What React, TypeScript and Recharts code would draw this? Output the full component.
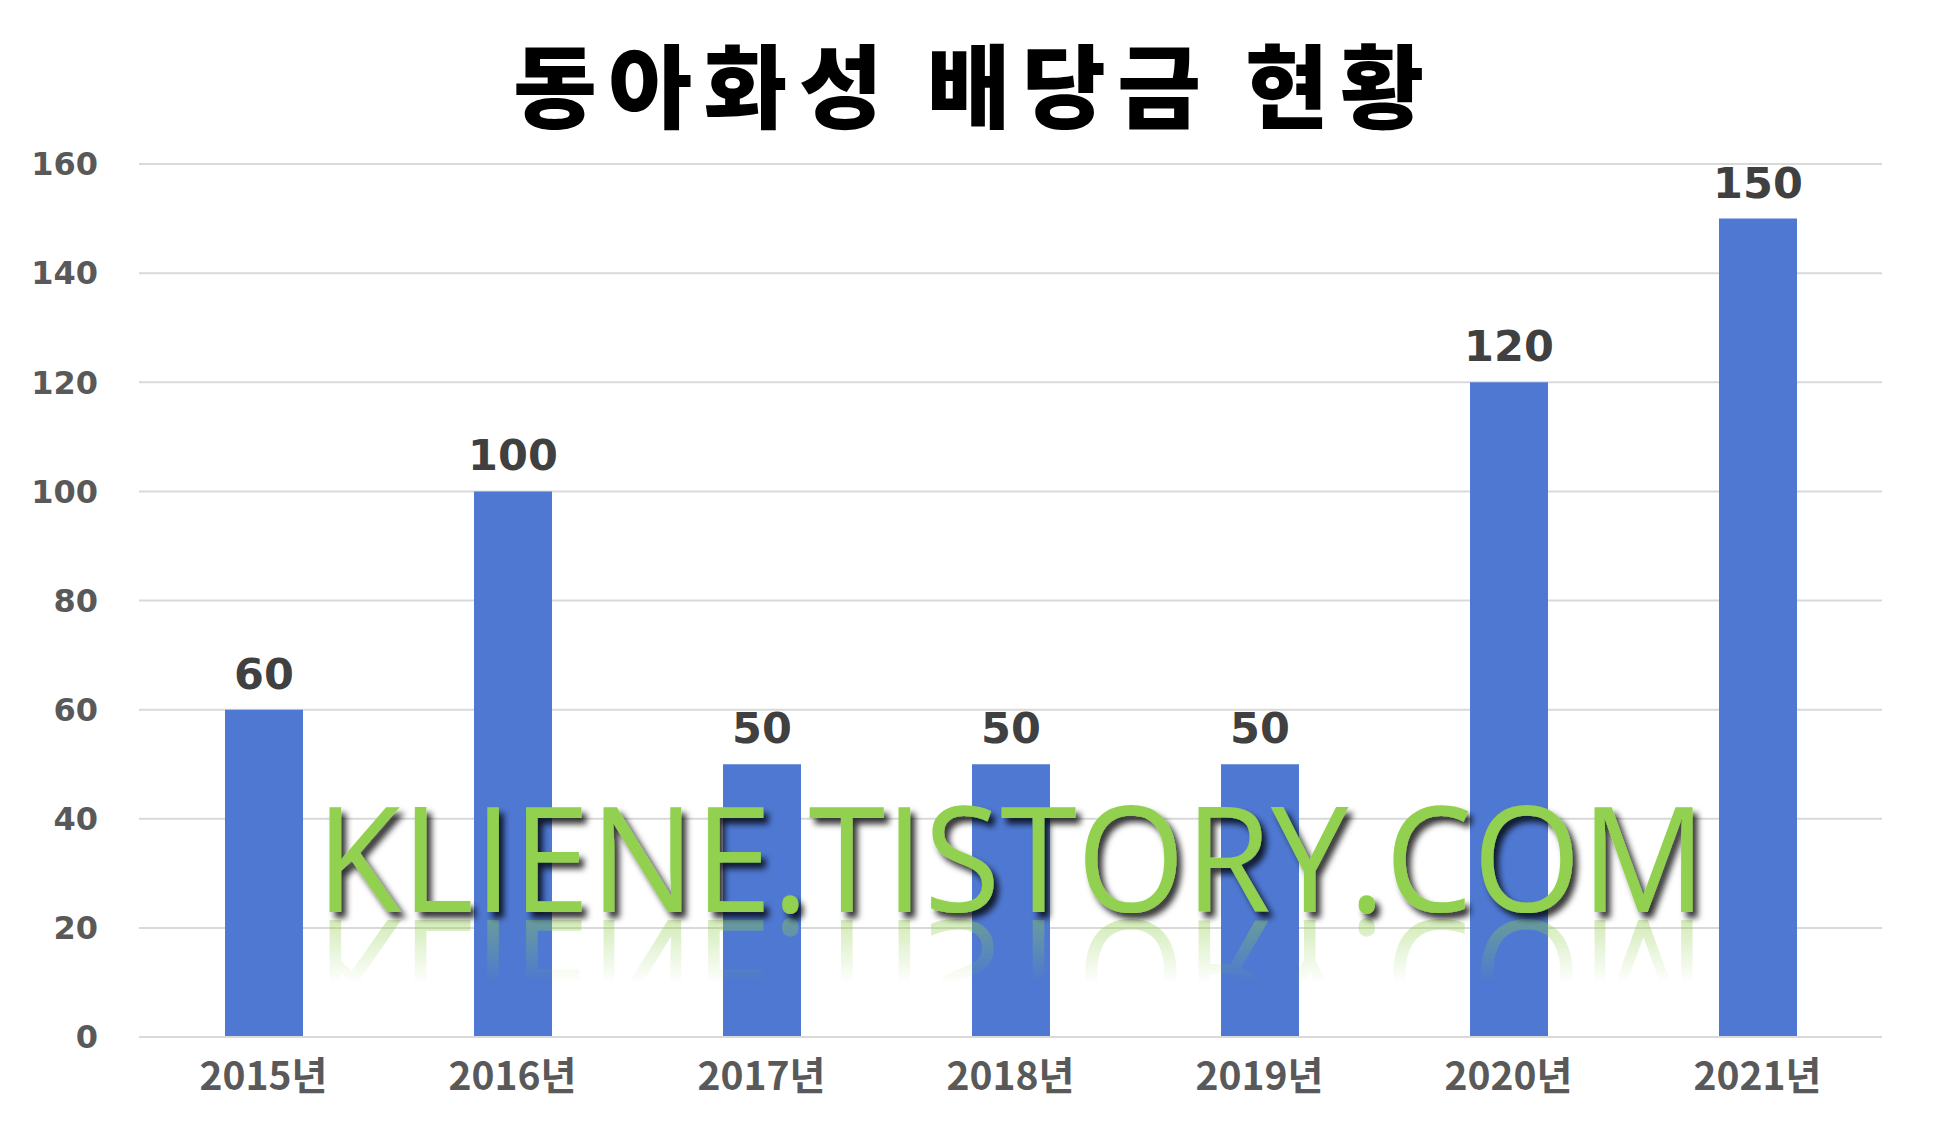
import { BarChart, Bar, XAxis, YAxis, CartesianGrid, LabelList } from 'recharts';

const years = ['2015년', '2016년', '2017년', '2018년', '2019년', '2020년', '2021년'];
const dividends = [60, 100, 50, 50, 50, 120, 150];
const yTicks = [0, 20, 40, 60, 80, 100, 120, 140, 160];

const title = '동아화성 배당금 현황';
const watermark = 'KLIENE.TISTORY.COM';

const data = years.map((year, i) => ({ year, value: dividends[i] }));

const Watermark = () => (
    <svg
        width={1933}
        height={1124}
        style={{ position: 'absolute', left: 0, top: 0, pointerEvents: 'none' }}
    >
        <defs>
            <filter id="wmShadow" x="-10%" y="-30%" width="120%" height="160%">
                <feDropShadow dx="5" dy="6" stdDeviation="3" floodColor="#000" floodOpacity="0.8" />
            </filter>
            <linearGradient id="reflFade" x1="0" y1="0" x2="0" y2="1">
                <stop offset="0" stopColor="#fff" stopOpacity="0.6" />
                <stop offset="1" stopColor="#fff" stopOpacity="0" />
            </linearGradient>
            <mask id="reflMask" maskUnits="userSpaceOnUse" x="0" y="0" width="1933" height="1124">
                <rect x="0" y="918" width="1933" height="65" fill="url(#reflFade)" />
            </mask>
        </defs>
        <g mask="url(#reflMask)">
            <text
                x={316}
                y={912}
                transform="translate(0 1832) scale(1 -1)"
                textLength={1390}
                lengthAdjust="spacingAndGlyphs"
                fontFamily="'Open Sans', sans-serif"
                fontSize={147}
                fill="#92D050"
                opacity={0.7}
            >
                {watermark}
            </text>
        </g>
        <text
            x={316}
            y={912}
            textLength={1390}
            lengthAdjust="spacingAndGlyphs"
            fontFamily="'Open Sans', sans-serif"
            fontSize={147}
            fill="#92D050"
            filter="url(#wmShadow)"
        >
            {watermark}
        </text>
    </svg>
);

export default function App() {
    return (
        <div style={{ position: 'absolute', left: 0, top: 0, width: 1933, height: 1124, background: '#fff' }}>
            <svg width={1933} height={150} style={{ position: 'absolute', left: 0, top: 0 }}>
                <text
                    x={513}
                    y={121}
                    textLength={911}
                    lengthAdjust="spacing"
                    fontFamily="'Noto Sans CJK KR', sans-serif"
                    fontWeight={900}
                    fontSize={91}
                    fill="#000"
                >
                    {title}
                </text>
            </svg>
            <BarChart
                width={1933}
                height={1124}
                data={data}
                margin={{ top: 164, right: 51, left: 0, bottom: 0 }}
                style={{ position: 'absolute', left: 0, top: 0 }}
            >
                <CartesianGrid vertical={false} stroke="#d9d9d9" strokeWidth={2} />
                <XAxis
                    dataKey="year"
                    height={87}
                    tickLine={false}
                    tickSize={0}
                    tickMargin={25}
                    axisLine={{ stroke: '#d9d9d9', strokeWidth: 2 }}
                    tick={{ fill: '#595959', fontSize: 39, fontWeight: 700, fontFamily: "'Noto Sans CJK KR', sans-serif" }}
                    interval={0}
                />
                <YAxis
                    width={139}
                    domain={[0, 160]}
                    ticks={yTicks}
                    axisLine={false}
                    tickLine={false}
                    tickSize={0}
                    tickMargin={41}
                    tick={{ fill: '#595959', fontSize: 32, fontWeight: 700, fontFamily: "'DejaVu Sans', sans-serif" }}
                />
                <Bar dataKey="value" fill="#4E78D2" barSize={78} isAnimationActive={false}>
                    <LabelList
                        dataKey="value"
                        position="top"
                        offset={21}
                        fill="#404040"
                        fontSize={43}
                        fontWeight={700}
                        fontFamily="'DejaVu Sans', sans-serif"
                    />
                </Bar>
            </BarChart>
            <Watermark />
        </div>
    );
}
